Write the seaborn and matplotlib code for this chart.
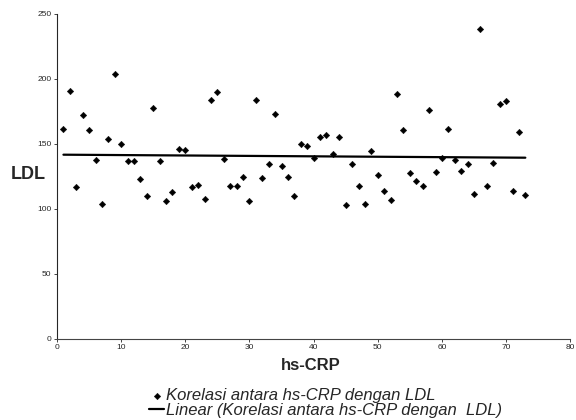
import numpy as np
import pandas as pd
import seaborn as sns
import matplotlib.pyplot as plt

# hs-CRP (sample index) and LDL values
hs_crp = list(range(1, 74))
ldl = [161.5, 190.5, 116.6, 172.0, 161.0, 137.7, 103.5, 154.0, 203.5, 150.2,
       137.0, 137.0, 123.0, 110.0, 177.4, 137.2, 105.8, 112.8, 146.4, 145.4,
       117.0, 118.2, 108.0, 183.8, 189.7, 138.5, 117.7, 117.7, 124.6, 106.4,
       183.8, 123.5, 134.6, 173.0, 132.8, 124.6, 109.7, 150.2, 148.2, 139.2,
       155.4, 157.2, 142.3, 155.4, 102.8, 134.3, 117.9, 104.1, 144.3, 126.2,
       114.1, 106.9, 188.7, 160.8, 127.4, 121.5, 117.4, 175.8, 128.5, 139.5,
       161.8, 137.7, 129.5, 134.6, 111.5, 238.5, 117.9, 135.6, 181.0, 183.3,
       113.8, 158.9, 110.8]

x_ticks = [0, 10, 20, 30, 40, 50, 60, 70, 80]
y_ticks = [0, 50, 100, 150, 200, 250]

scatter_label = "Korelasi antara hs-CRP dengan LDL"
trend_label = "Linear (Korelasi antara hs-CRP dengan  LDL)"

df = pd.DataFrame({"hs-CRP": hs_crp, "LDL": ldl})

# linear trendline (like excel)
slope, intercept = np.polyfit(df["hs-CRP"], df["LDL"], 1)
df["trend"] = slope * df["hs-CRP"] + intercept

sns.set_style("ticks")
plt.rcParams["font.family"] = ["Liberation Sans", "DejaVu Sans"]

fig = plt.figure(figsize=(5.76, 4.2), dpi=100)
ax = fig.add_axes([0.099, 0.193, 0.891, 0.774])

sns.scatterplot(x="hs-CRP", y="LDL", data=df, ax=ax, marker="D", s=11,
                color="black", edgecolor="black", linewidth=0.3,
                label=scatter_label)
sns.lineplot(x="hs-CRP", y="trend", data=df, ax=ax, color="black",
             linewidth=1.6, label=trend_label)

ax.set_xlim(0, 80)
ax.set_ylim(0, 250)
ax.set_xticks(x_ticks)
ax.set_yticks(y_ticks)
ax.tick_params(axis="both", labelsize=6, length=2, width=0.6, pad=2)
for s in ["top", "right"]:
    ax.spines[s].set_visible(False)
ax.spines["left"].set_linewidth(0.8)
ax.spines["bottom"].set_linewidth(0.8)
ax.spines["bottom"].set_color("#444444")

ax.set_xlabel("")
ax.set_ylabel("")
fig.text(0.018, 0.585, "LDL", fontsize=13, fontweight="bold", va="center")
fig.text(0.54, 0.118, "hs-CRP", fontsize=12, fontweight="bold", ha="center")

handles, labels = ax.get_legend_handles_labels()
ax.get_legend().remove()
leg = fig.legend(handles, labels, loc="lower center", bbox_to_anchor=(0.565, -0.022),
                 frameon=False, ncol=1, handlelength=0.9, handletextpad=0.1,
                 labelspacing=-0.05, borderpad=0.2,
                 prop={"style": "italic", "size": 12})

plt.savefig("out.png", dpi=100)
